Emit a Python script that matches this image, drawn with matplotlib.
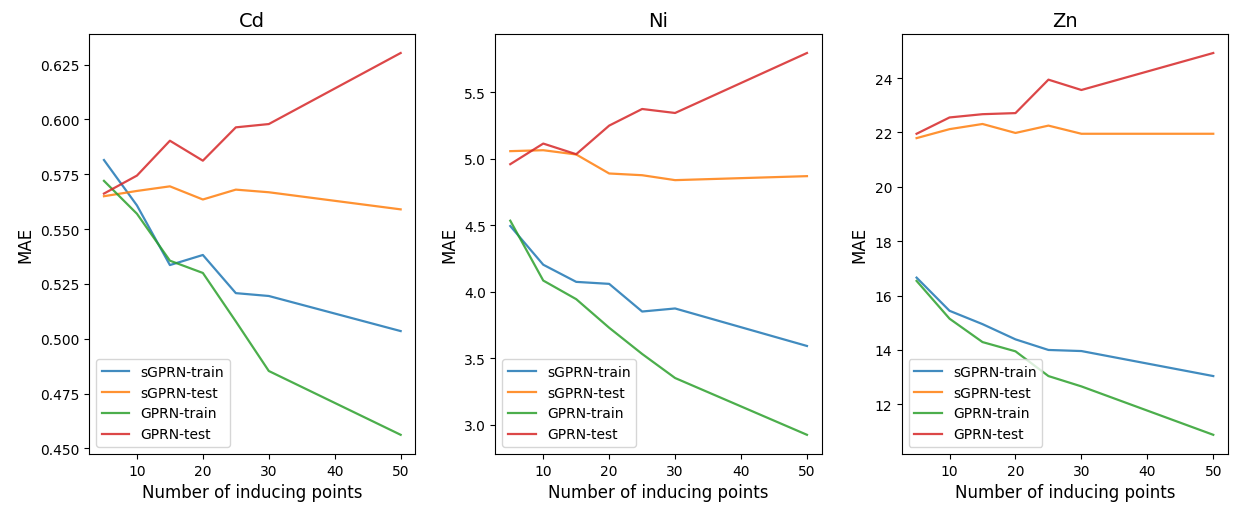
import matplotlib
matplotlib.use('Agg')
import matplotlib.pyplot as plt

x_points = [5, 10, 15, 20, 25, 30, 50]
metals = ['Cd', 'Ni', 'Zn']

# MAE for every metal
sgprn_train = {
    'Cd': [0.5815, 0.5608, 0.5336, 0.5382, 0.5208, 0.5195, 0.5035],
    'Ni': [4.495, 4.204, 4.075, 4.060, 3.852, 3.875, 3.593],
    'Zn': [16.66, 15.44, 14.95, 14.39, 14.00, 13.96, 13.04],
}
sgprn_test = {
    'Cd': [0.5650, 0.5674, 0.5695, 0.5635, 0.5680, 0.5668, 0.5590],
    'Ni': [5.058, 5.065, 5.033, 4.890, 4.877, 4.840, 4.870],
    'Zn': [21.79, 22.12, 22.31, 21.98, 22.25, 21.95, 21.95],
}
gprn_train = {
    'Cd': [0.5720, 0.5570, 0.5356, 0.5300, 0.5079, 0.4853, 0.4562],
    'Ni': [4.535, 4.085, 3.945, 3.730, 3.533, 3.352, 2.925],
    'Zn': [16.54, 15.15, 14.29, 13.95, 13.04, 12.66, 10.88],
}
gprn_test = {
    'Cd': [0.5662, 0.5744, 0.5903, 0.5812, 0.5964, 0.5979, 0.6303],
    'Ni': [4.960, 5.115, 5.035, 5.250, 5.375, 5.345, 5.796],
    'Zn': [21.95, 22.55, 22.67, 22.71, 23.94, 23.56, 24.92],
}

fig, axes = plt.subplots(1, 3, figsize=(12.38, 5.06), dpi=100)
fig.subplots_adjust(left=0.072, right=0.992, bottom=0.101, top=0.931, wspace=0.245)

for ax, m in zip(axes, metals):
    ax.plot(x_points, sgprn_train[m], color='tab:blue', alpha=0.85, linewidth=1.6, label='sGPRN-train')
    ax.plot(x_points, sgprn_test[m], color='tab:orange', alpha=0.85, linewidth=1.6, label='sGPRN-test')
    ax.plot(x_points, gprn_train[m], color='tab:green', alpha=0.85, linewidth=1.6, label='GPRN-train')
    ax.plot(x_points, gprn_test[m], color='tab:red', alpha=0.85, linewidth=1.6, label='GPRN-test')
    ax.set_title(m, fontsize=14)
    ax.set_xlabel('Number of inducing points', fontsize=12)
    ax.set_ylabel('MAE', fontsize=12)
    ax.tick_params(labelsize=10)
    ax.legend(loc='lower left', fontsize=10)

fig.savefig('out.png')
